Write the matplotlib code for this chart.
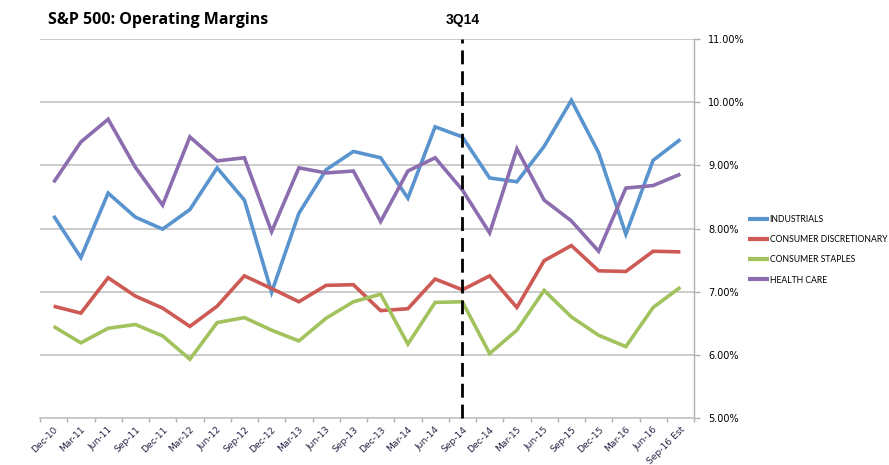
import matplotlib
matplotlib.use("Agg")
import matplotlib.pyplot as plt
from matplotlib.ticker import FuncFormatter, FixedLocator

quarters = ["Dec-10", "Mar-11", "Jun-11", "Sep-11", "Dec-11", "Mar-12", "Jun-12", "Sep-12",
            "Dec-12", "Mar-13", "Jun-13", "Sep-13", "Dec-13", "Mar-14", "Jun-14", "Sep-14",
            "Dec-14", "Mar-15", "Jun-15", "Sep-15", "Dec-15", "Mar-16", "Jun-16", "Sep-16 Est"]

industrials = [8.20, 7.54, 8.56, 8.18, 7.99, 8.30, 8.96, 8.45, 6.99, 8.24, 8.93, 9.22,
               9.12, 8.48, 9.61, 9.45, 8.80, 8.74, 9.30, 10.03, 9.20, 7.91, 9.08, 9.41]
cons_disc = [6.77, 6.66, 7.22, 6.93, 6.74, 6.45, 6.77, 7.25, 7.05, 6.84, 7.10, 7.11,
             6.70, 6.73, 7.20, 7.03, 7.25, 6.75, 7.49, 7.73, 7.33, 7.32, 7.64, 7.63]
cons_staples = [6.45, 6.19, 6.42, 6.48, 6.30, 5.93, 6.51, 6.59, 6.39, 6.22, 6.58, 6.84,
                6.96, 6.17, 6.83, 6.84, 6.02, 6.39, 7.02, 6.60, 6.31, 6.13, 6.75, 7.07]
health_care = [8.73, 9.37, 9.73, 8.97, 8.37, 9.45, 9.07, 9.12, 7.95, 8.96, 8.88, 8.91,
               8.11, 8.91, 9.12, 8.61, 7.93, 9.26, 8.45, 8.12, 7.64, 8.64, 8.68, 8.86]

series_names = ["INDUSTRIALS", "CONSUMER DISCRETIONARY", "CONSUMER STAPLES", "HEALTH CARE"]
series_vals = [industrials, cons_disc, cons_staples, health_care]
colors = ["#5A94CF", "#CD5A54", "#A2C25E", "#8C6DAF"]

marker_label = "3Q14"
marker_quarter = "Sep-14"
title = "S&P 500: Operating Margins"

fig = plt.figure(figsize=(8.89, 4.65), dpi=100)
ax = fig.add_axes([40/889, 1-418/465, (694-40)/889, (418-39)/465])

x = list(range(len(quarters)))
for name, vals, c in zip(series_names, series_vals, colors):
    ax.plot(x, vals, color=c, lw=2.6, label=name, solid_joinstyle="miter", solid_capstyle="butt")

mi = quarters.index(marker_quarter)
ax.plot([mi, mi], [5, 11], color="black", lw=2.0, ls=(0, (5, 2.5)), clip_on=False, zorder=5)

ax.set_xlim(-0.5, len(quarters) - 0.5)
ax.set_ylim(5, 11)
ax.yaxis.tick_right()
ax.set_yticks([5, 6, 7, 8, 9, 10, 11])
ax.yaxis.set_major_formatter(FuncFormatter(lambda v, p: f"{v:.2f}%"))
ax.grid(axis="y", color="#C4C4C4", lw=1.2)
ax.set_axisbelow(True)

ax.set_xticks(x)
ax.set_xticklabels(quarters, rotation=45, ha="right", va="top", rotation_mode="anchor",
                   fontsize=6.6, color="#222244", family="DejaVu Sans")
ax.xaxis.set_minor_locator(FixedLocator([i - 0.5 for i in range(len(quarters) + 1)]))
ax.tick_params(axis="x", which="major", length=0, pad=5)
ax.tick_params(axis="x", which="minor", length=3, color="#B0B0B0", width=1)
ax.tick_params(axis="y", length=4, color="#B0B0B0", width=1, labelsize=7, pad=6)

for s in ["top", "left"]:
    ax.spines[s].set_visible(False)
ax.spines["bottom"].set_color("#C4C4C4")
ax.spines["bottom"].set_linewidth(1.2)
ax.spines["right"].set_color("#B0B0B0")
ax.spines["right"].set_linewidth(1.0)

fig.text(48/889, 1-20/465, title, fontsize=11.5, fontweight="bold", family="Open Sans",
         ha="left", va="center")
mx_fig = fig.transFigure.inverted().transform(ax.transData.transform((mi, 11)))[0]
fig.text(mx_fig, 1-20/465, marker_label, fontsize=10, fontweight="bold",
         family="Liberation Sans", ha="center", va="center")

leg = ax.legend(loc="upper left", bbox_to_anchor=(745/889, 1-212/465), bbox_transform=fig.transFigure,
                frameon=False, prop={"family": "Lato", "size": 6.2}, handlelength=2.4,
                handletextpad=0.05, labelspacing=1.28, borderaxespad=0)
for h in leg.get_lines():
    h.set_linewidth(3.0)

fig.savefig("out.png", dpi=100)
